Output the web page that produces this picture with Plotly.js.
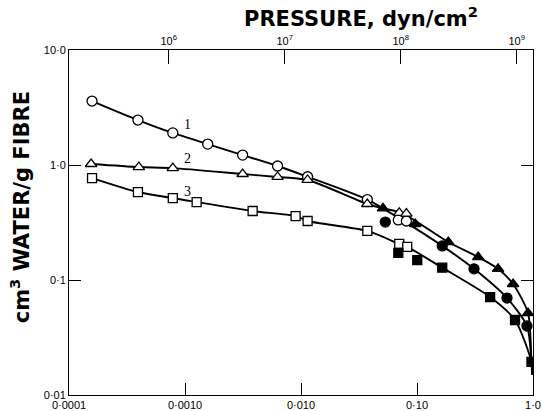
<!DOCTYPE html>
<html>
<head>
<meta charset="utf-8">
<script src="https://cdn.plot.ly/plotly-3.0.1.min.js"></script>
<style>html,body{margin:0;padding:0;background:#fff;}#chart{width:542px;height:411px;}</style>
</head>
<body>
<div id="chart"></div>
<script>
// Bottom axis (dimensionless) ticks
const xTickVals = [0.0001, 0.001, 0.01, 0.1, 1.0];
const xTickText = ["0·0001", "0·0010", "0·010", "0·10", "1·0"];
// Left axis ticks
const yTickVals = [0.01, 0.1, 1, 10];
const yTickText = ["0·01", "0·1", "1·0", "10·0"];
// Top axis (pressure, dyn/cm2)
const pTickVals = [1e6, 1e7, 1e8, 1e9];
const pTickText = ["10<sup>6</sup>", "10<sup>7</sup>", "10<sup>8</sup>", "10<sup>9</sup>"];

// Curve 1 (circles)
const s1OpenX = [1.58e-4, 3.93e-4, 7.85e-4, 1.57e-3, 3.14e-3, 6.28e-3, 0.0114, 0.0373, 0.069, 0.081];
const s1OpenY = [3.6, 2.46, 1.90, 1.52, 1.22, 0.98, 0.79, 0.50, 0.333, 0.326];
const s1FillX = [0.0533, 0.165, 0.310, 0.597, 0.887];
const s1FillY = [0.319, 0.198, 0.125, 0.0697, 0.0398];
const c1X = [1.58e-4, 3.93e-4, 7.85e-4, 1.57e-3, 3.14e-3, 6.28e-3, 0.0114, 0.0373, 0.075, 0.165, 0.310, 0.597, 0.887, 0.97, 0.985];
const c1Y = [3.6, 2.46, 1.90, 1.52, 1.22, 0.98, 0.79, 0.50, 0.33, 0.198, 0.125, 0.0697, 0.0398, 0.0194, 0.015];

// Curve 2 (triangles)
const s2OpenX = [1.55e-4, 4.0e-4, 7.85e-4, 3.14e-3, 6.28e-3, 0.0114, 0.0373, 0.0703, 0.081];
const s2OpenY = [1.02, 0.96, 0.94, 0.835, 0.787, 0.741, 0.458, 0.383, 0.378];
const s2FillX = [0.0509, 0.0966, 0.186, 0.337, 0.50, 0.673, 0.906];
const s2FillY = [0.42, 0.307, 0.214, 0.158, 0.125, 0.0923, 0.0516];
const c2X = [1.55e-4, 4.0e-4, 7.85e-4, 3.14e-3, 6.28e-3, 0.0114, 0.0373, 0.0509, 0.075, 0.186, 0.337, 0.50, 0.673, 0.906, 0.97, 0.985];
const c2Y = [1.02, 0.96, 0.94, 0.835, 0.787, 0.741, 0.458, 0.42, 0.38, 0.214, 0.158, 0.125, 0.0923, 0.0516, 0.0194, 0.015];

// Curve 3 (squares)
const s3OpenX = [1.58e-4, 3.93e-4, 7.85e-4, 1.26e-3, 3.83e-3, 8.98e-3, 0.0114, 0.0373, 0.0703, 0.0824];
const s3OpenY = [0.77, 0.582, 0.516, 0.476, 0.398, 0.36, 0.326, 0.267, 0.206, 0.194];
const s3FillX = [0.069, 0.1005, 0.165, 0.427, 0.70, 0.97];
const s3FillY = [0.172, 0.149, 0.128, 0.0711, 0.0449, 0.0194];
const c3X = [1.58e-4, 3.93e-4, 7.85e-4, 1.26e-3, 3.83e-3, 8.98e-3, 0.0114, 0.0373, 0.0703, 0.0824, 0.165, 0.427, 0.70, 0.97, 0.985];
const c3Y = [0.77, 0.582, 0.516, 0.476, 0.398, 0.36, 0.326, 0.267, 0.206, 0.194, 0.128, 0.0711, 0.0449, 0.0194, 0.015];

// Curve labels
const curveLabels = ["1", "2", "3"];
const labelX = [1.06e-3, 1.06e-3, 1.06e-3];
const labelY = [2.23, 1.15, 0.594];

function lineTrace(x, y) {
  return {x: x, y: y, type: 'scatter', mode: 'lines', hoverinfo: 'skip',
          line: {color: '#000', width: 1.9, shape: 'spline', smoothing: 0.7}, showlegend: false};
}
function markTrace(x, y, sym, filled, size) {
  return {x: x, y: y, type: 'scatter', mode: 'markers', showlegend: false,
          marker: {symbol: sym, size: size, color: filled ? '#000' : '#fff',
                   line: {color: '#000', width: 1.3}}};
}

const data = [
  lineTrace(c1X, c1Y), lineTrace(c2X, c2Y), lineTrace(c3X, c3Y),
  markTrace(s1OpenX, s1OpenY, 'circle', false, 10),
  markTrace(s1FillX, s1FillY, 'circle', true, 10),
  markTrace(s2OpenX, s2OpenY, 'triangle-up', false, 10),
  markTrace(s2FillX, s2FillY, 'triangle-up', true, 10),
  markTrace(s3OpenX, s3OpenY, 'square', false, 9),
  markTrace(s3FillX, s3FillY, 'square', true, 9),
  // empty trace so that the top pressure axis is created and drawn
  {x: [], y: [], type: 'scatter', mode: 'markers', xaxis: 'x2', yaxis: 'y', showlegend: false, hoverinfo: 'skip'}
];

const tickFont = {family: 'Liberation Sans, Arial, sans-serif', size: 11, color: '#000'};
const titleFont = {family: 'DejaVu Sans, sans-serif', size: 21, color: '#000', weight: 'bold'};

const annotations = curveLabels.map((t, i) => ({
  x: Math.log10(labelX[i]), y: Math.log10(labelY[i]), xref: 'x', yref: 'y',
  text: t, showarrow: false, font: {family: 'Liberation Serif, serif', size: 14, color: '#000'}
}));
annotations.push({
  xref: 'paper', yref: 'paper', x: 0.63, y: 1.095, text: 'PRESSURE, dyn/cm<sup>2</sup>',
  showarrow: false, font: titleFont, xanchor: 'center', yanchor: 'middle'
});
annotations.push({
  xref: 'paper', yref: 'paper', x: -0.105, y: 0.545, text: 'cm<sup>3</sup> WATER/g FIBRE',
  showarrow: false, font: titleFont, textangle: -90, xanchor: 'center', yanchor: 'middle'
});

const layout = {
  width: 542, height: 411,
  margin: {l: 69, r: 9, t: 50, b: 16},
  paper_bgcolor: '#fff', plot_bgcolor: '#fff',
  showlegend: false,
  xaxis: {type: 'log', range: [-4, 0], tickvals: xTickVals, ticktext: xTickText,
          ticks: 'inside', ticklen: 12, tickwidth: 1, tickcolor: '#000',
          showline: true, linecolor: '#000', linewidth: 1, mirror: false,
          showgrid: false, zeroline: false, tickfont: tickFont, fixedrange: true},
  xaxis2: {type: 'log', range: [5.14, 9.14], overlaying: 'x', side: 'top', anchor: 'y',
           tickvals: pTickVals, ticktext: pTickText,
           ticks: 'inside', ticklen: 14, tickwidth: 1, tickcolor: '#000',
           showline: true, linecolor: '#000', linewidth: 1,
           showgrid: false, zeroline: false, tickfont: tickFont, fixedrange: true},
  yaxis: {type: 'log', range: [-2, 1], tickvals: yTickVals, ticktext: yTickText,
          ticks: 'inside', ticklen: 12, tickwidth: 1, tickcolor: '#000',
          showline: true, linecolor: '#000', linewidth: 1, mirror: 'ticks',
          showgrid: false, zeroline: false, tickfont: tickFont, fixedrange: true},
  annotations: annotations
};

Plotly.newPlot('chart', data, layout, {displayModeBar: false, staticPlot: true});
</script>
</body>
</html>
